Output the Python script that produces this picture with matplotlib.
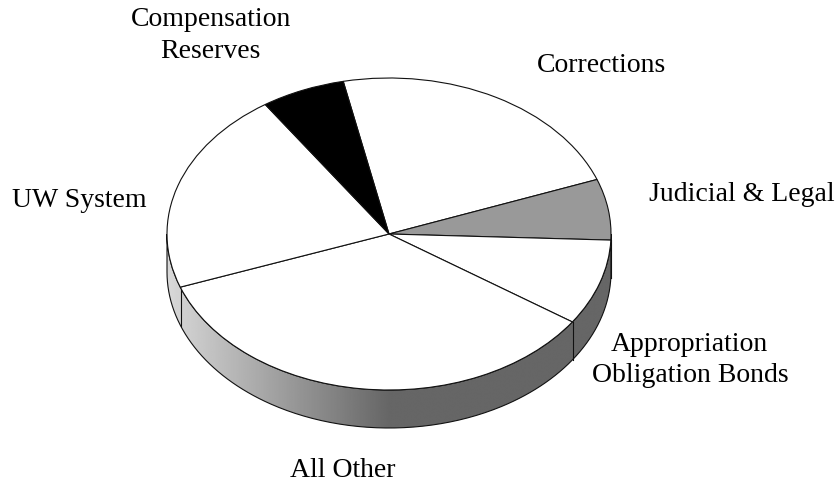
import numpy as np
import matplotlib
matplotlib.use("Agg")
import matplotlib.pyplot as plt
from matplotlib.path import Path
from matplotlib.patches import PathPatch

W, H = 838, 483
CX, CY, RX, RY, DEPTH = 389, 234, 222, 156, 38

categories = ["Corrections", "Judicial & Legal", "Appropriation Obligation Bonds",
              "All Other", "UW System", "Compensation Reserves"]
shares = [22.6, 6.3, 8.9, 34.9, 21.1, 6.1]
colors = ["white", "#999999", "white", "white", "white", "black"]
start_clockwise_from_top = -11.9

label_lines = ["Compensation", "Reserves", "Corrections", "Judicial & Legal", "Appropriation",
               "Obligation Bonds", "All Other", "UW System"]
label_x = [211, 210, 601, 742, 689, 690, 343, 79]
label_y = [26, 58, 72, 201, 351, 382, 477, 207]

grad_x = [-1.0, 0.0, 1.0]
grad_grey = [0.85, 0.40, 0.40]

fig = plt.figure(figsize=(W / 100, H / 100), dpi=100, facecolor="white")
ax = fig.add_axes([0, 0, 1, 1])

xlim = (-CX / RX, (W - CX) / RX)
ylim = ((CY - H) / RY, CY / RY)
d = DEPTH / RY

# side wall
phi = np.linspace(np.pi, 2 * np.pi, 300)
top = np.column_stack([np.cos(phi), np.sin(phi)])
bot = np.column_stack([np.cos(phi[::-1]), np.sin(phi[::-1]) - d])
verts = np.vstack([top, bot, top[:1]])
wall = Path(verts)
xs = np.linspace(-1, 1, 500)
img = np.interp(xs, grad_x, grad_grey)[None, :]
im = ax.imshow(img, cmap="gray", vmin=0, vmax=1, extent=(-1, 1, -1 - d, 0.2),
               aspect="auto", zorder=1, interpolation="bilinear")
patch = PathPatch(wall, facecolor="none", edgecolor="#111111", lw=0.8, zorder=2)
ax.add_patch(patch)
im.set_clip_path(patch)

# dividers on the wall, at the slice boundaries facing the viewer
edges = start_clockwise_from_top + np.cumsum(shares) * 3.6
for a in edges:
    t = np.radians(a)
    x, y = np.sin(t), np.cos(t)
    if y < 0:
        ax.plot([x, x], [y, y - d], color="#111111", lw=0.8, zorder=2)

# top face
ax.pie(shares, colors=colors, startangle=90 - start_clockwise_from_top, counterclock=False,
       radius=1, wedgeprops=dict(edgecolor="#111111", linewidth=0.8, zorder=3))
ax.set_aspect("auto")
ax.set_xlim(xlim)
ax.set_ylim(ylim)
ax.axis("off")

for s, x, y in zip(label_lines, label_x, label_y):
    fig.text(x / W, 1 - y / H, s, ha="center", va="baseline",
             family="Liberation Serif", fontsize=20, color="black")

fig.savefig("out.png", dpi=100, facecolor="white")
